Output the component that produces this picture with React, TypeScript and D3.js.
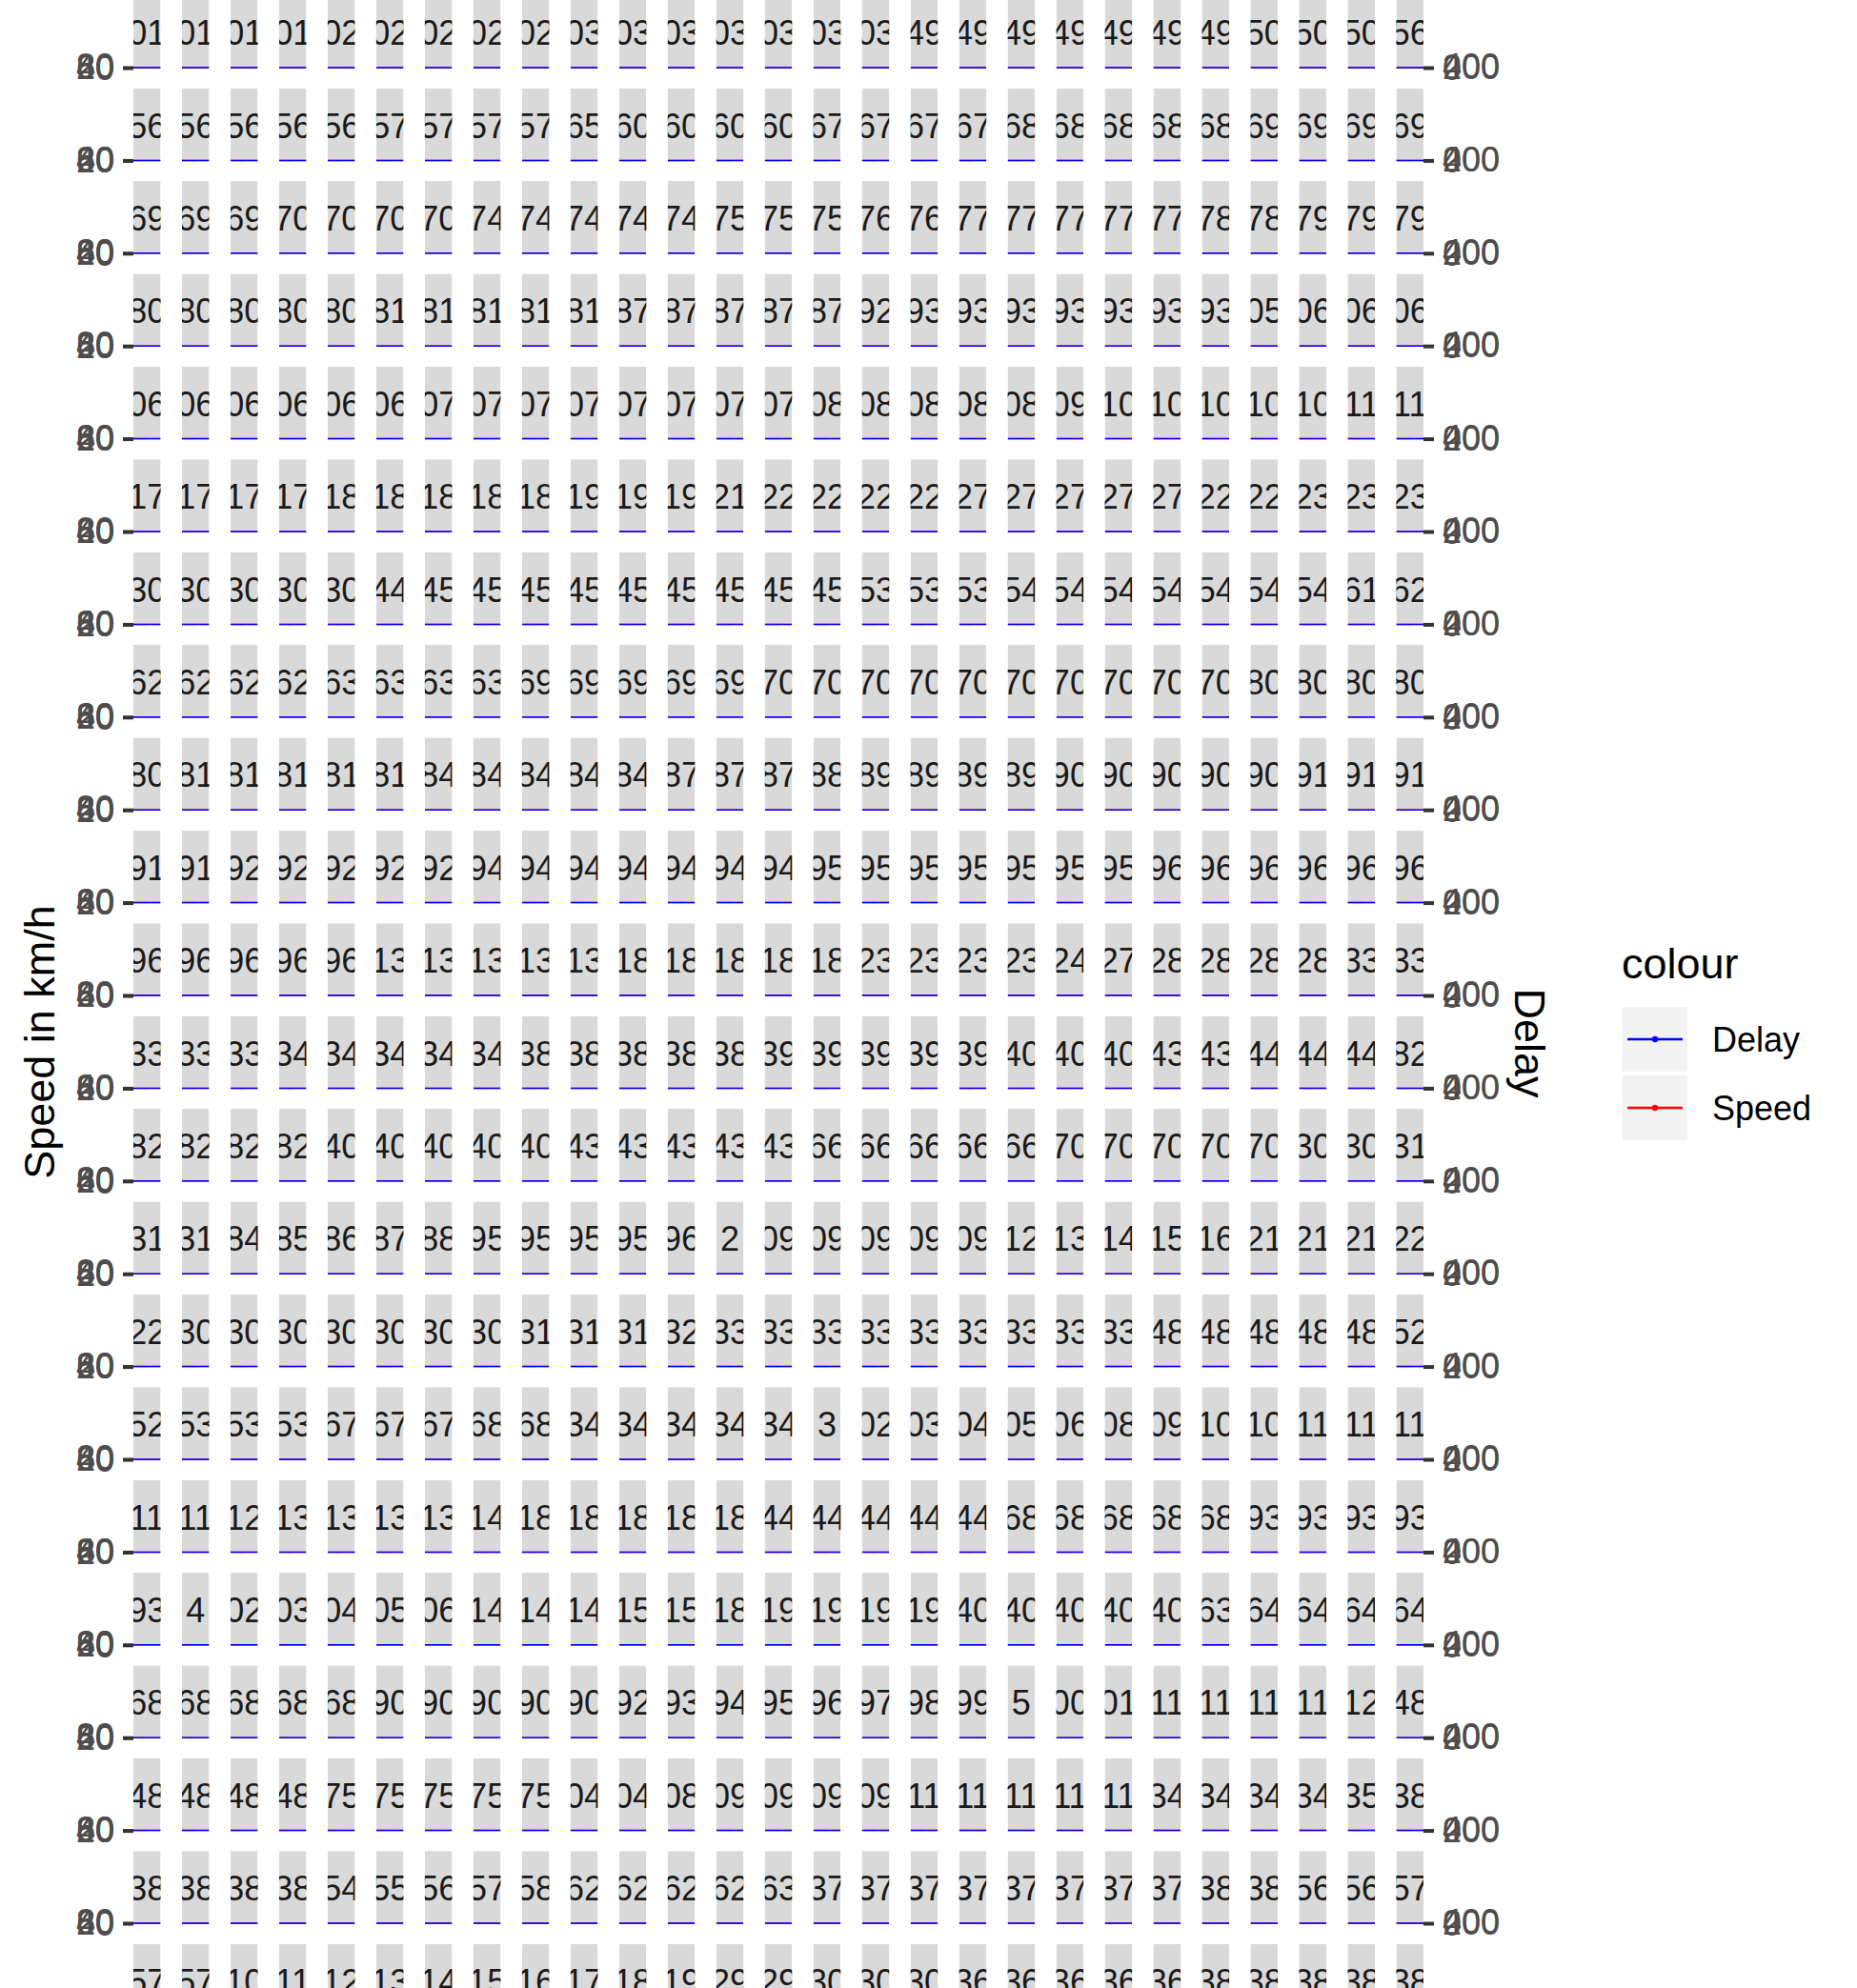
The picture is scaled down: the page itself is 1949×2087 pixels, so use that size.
import React, { useEffect, useRef } from "react";
import * as d3 from "d3";

// Facet strip labels, row by row (only the part that is visible in the narrow strips)
const stripRows = [
  "01 01 01 01 02 02 02 02 02 03 03 03 03 03 03 03 49 49 49 49 49 49 49 50 50 50 56",
  "56 56 56 56 56 57 57 57 57 65 60 60 60 60 67 67 67 67 68 68 68 68 68 69 69 69 69",
  "69 69 69 70 70 70 70 74 74 74 74 74 75 75 75 76 76 77 77 77 77 77 78 78 79 79 79",
  "80 80 80 80 80 81 81 81 81 81 87 87 87 87 87 92 93 93 93 93 93 93 93 05 06 06 06",
  "06 06 06 06 06 06 07 07 07 07 07 07 07 07 08 08 08 08 08 09 10 10 10 10 10 11 11",
  "17 17 17 17 18 18 18 18 18 19 19 19 21 22 22 22 22 27 27 27 27 27 22 22 23 23 23",
  "30 30 30 30 30 44 45 45 45 45 45 45 45 45 45 53 53 53 54 54 54 54 54 54 54 61 62",
  "62 62 62 62 63 63 63 63 69 69 69 69 69 70 70 70 70 70 70 70 70 70 70 80 80 80 80",
  "80 81 81 81 81 81 84 84 84 84 84 87 87 87 88 89 89 89 89 90 90 90 90 90 91 91 91",
  "91 91 92 92 92 92 92 94 94 94 94 94 94 94 95 95 95 95 95 95 95 96 96 96 96 96 96",
  "96 96 96 96 96 13 13 13 13 13 18 18 18 18 18 23 23 23 23 24 27 28 28 28 28 33 33",
  "33 33 33 34 34 34 34 34 38 38 38 38 38 39 39 39 39 39 40 40 40 43 43 44 44 44 82",
  "82 82 82 82 40 40 40 40 40 43 43 43 43 43 66 66 66 66 66 70 70 70 70 70 30 30 31",
  "31 31 84 85 86 87 88 95 95 95 95 96 2 09 09 09 09 09 12 13 14 15 16 21 21 21 22",
  "22 30 30 30 30 30 30 30 31 31 31 32 33 33 33 33 33 33 33 33 33 48 48 48 48 48 52",
  "52 53 53 53 67 67 67 68 68 34 34 34 34 34 3 02 03 04 05 06 08 09 10 10 11 11 11",
  "11 11 12 13 13 13 13 14 18 18 18 18 18 44 44 44 44 44 68 68 68 68 68 93 93 93 93",
  "93 4 02 03 04 05 06 14 14 14 15 15 18 19 19 19 19 40 40 40 40 40 63 64 64 64 64",
  "68 68 68 68 68 90 90 90 90 90 92 93 94 95 96 97 98 99 5 00 01 11 11 11 11 12 48",
  "48 48 48 48 75 75 75 75 75 04 04 08 09 09 09 09 11 11 11 11 11 34 34 34 34 35 38",
  "38 38 38 38 54 55 56 57 58 62 62 62 62 63 37 37 37 37 37 37 37 37 38 38 56 56 57",
  "57 57 10 11 12 13 14 15 16 17 18 19 29 29 30 30 30 36 36 36 36 36 38 38 38 38 38",
].map((r) => r.split(" "));

// one short trip per facet (panels are squashed flat, values are not readable)
const tripTime = [0, 1, 2, 3, 4, 5];
const speedKmh = [46, 52, 38, 61, 55, 49];
const delaySec = [120, 90, 150, 60, 80, 110];

const speedTicks = [0, 20, 40, 60, 80];
const delayTicks = [0, 200, 400];

const legendItems = [
  { label: "Delay", color: "#0000FF" },
  { label: "Speed", color: "#FF0000" },
];

const W = 1949;
const H = 2087;
const FONT = "'Liberation Sans', Arial, Helvetica, sans-serif";

export default function App() {
  const svgRef = useRef<SVGSVGElement>(null);

  useEffect(() => {
    const svg = d3.select(svgRef.current);
    svg.selectAll("*").remove();

    const nCols = stripRows[0].length;
    const stripH = 75;
    const panelH = 1.5;

    // Layout scales
    const col = d3
      .scaleBand<number>()
      .domain(d3.range(nCols))
      .range([140, 1494])
      .paddingInner(0.44);
    const bw = col.bandwidth();
    const rowBase = d3.scaleLinear().domain([0, 20]).range([71, 2019]);

    // Panel scales
    const x = d3
      .scaleLinear()
      .domain(d3.extent(tripTime) as [number, number])
      .range([0, bw]);
    const ySpeed = d3.scaleLinear().domain([0, 80]).range([panelH, 0]);
    const yDelay = d3.scaleLinear().domain([0, 400]).range([panelH, 0]);

    svg
      .append("defs")
      .append("clipPath")
      .attr("id", "panel-clip")
      .append("rect")
      .attr("width", bw)
      .attr("height", panelH);

    const speedLine = d3
      .line<number>()
      .x((_, i) => x(tripTime[i]))
      .y((d) => ySpeed(d));
    const delayLine = d3
      .line<number>()
      .x((_, i) => x(tripTime[i]))
      .y((d) => yDelay(d));

    const grid = svg.append("g");

    stripRows.forEach((labels, r) => {
      labels.forEach((label, c) => {
        const g = grid
          .append("g")
          .attr("transform", `translate(${col(c)},${rowBase(r) - panelH / 2})`);

        // strip (nested svg clips the label)
        const strip = g
          .append("svg")
          .attr("x", 0)
          .attr("y", -stripH)
          .attr("width", bw)
          .attr("height", stripH)
          .attr("overflow", "hidden");
        strip
          .append("rect")
          .attr("width", bw)
          .attr("height", stripH)
          .attr("fill", "#D9D9D9");
        strip
          .append("text")
          .attr("x", bw / 2)
          .attr("y", stripH / 2)
          .attr("dy", "0.4em")
          .attr("text-anchor", "middle")
          .attr("font-family", FONT)
          .attr("font-size", 36)
          .attr("fill", "#1A1A1A")
          .text(label);

        // panel contents
        const p = g.append("g").attr("clip-path", "url(#panel-clip)");
        p.append("path")
          .datum(speedKmh)
          .attr("fill", "none")
          .attr("stroke", "#FF0000")
          .attr("stroke-width", 3)
          .attr("d", speedLine);
        p.append("path")
          .datum(delaySec)
          .attr("fill", "none")
          .attr("stroke", "#0000FF")
          .attr("stroke-width", 4)
          .attr("d", delayLine);

        if (c === 0) {
          const ax = g
            .append("g")
            .call(d3.axisLeft(ySpeed).tickValues(speedTicks).tickSize(11).tickPadding(9));
          styleAxis(ax);
        }
        if (c === nCols - 1) {
          const ax = g
            .append("g")
            .attr("transform", `translate(${bw},0)`)
            .call(d3.axisRight(yDelay).tickValues(delayTicks).tickSize(11).tickPadding(9));
          styleAxis(ax);
        }
      });
    });

    function styleAxis(ax: d3.Selection<SVGGElement, unknown, null, undefined>) {
      ax.attr("font-size", 36).attr("font-family", FONT);
      ax.select(".domain").remove();
      ax.selectAll(".tick line").attr("stroke", "#333333").attr("stroke-width", 2.5);
      ax.selectAll(".tick text").attr("fill", "#4D4D4D");
    }

    // Axis titles
    svg
      .append("text")
      .attr("transform", "translate(57,1094) rotate(-90)")
      .attr("text-anchor", "middle")
      .attr("font-family", FONT)
      .attr("font-size", 45)
      .attr("fill", "#000")
      .text("Speed in km/h");
    svg
      .append("text")
      .attr("transform", "translate(1590,1095) rotate(90)")
      .attr("text-anchor", "middle")
      .attr("font-family", FONT)
      .attr("font-size", 45)
      .attr("fill", "#000")
      .text("Delay");

    // Legend
    const legend = svg.append("g").attr("transform", "translate(1702,1027)");
    legend
      .append("text")
      .attr("font-family", FONT)
      .attr("font-size", 45)
      .attr("fill", "#000")
      .text("colour");
    const keySize = 68;
    const keys = legend
      .selectAll("g.key")
      .data(legendItems)
      .enter()
      .append("g")
      .attr("class", "key")
      .attr("transform", (_, i) => `translate(1,${30 + i * (keySize + 4)})`);
    keys
      .append("rect")
      .attr("width", keySize)
      .attr("height", keySize)
      .attr("fill", "#F2F2F2");
    keys
      .append("line")
      .attr("x1", 5)
      .attr("x2", keySize - 5)
      .attr("y1", keySize / 2)
      .attr("y2", keySize / 2)
      .attr("stroke", (d) => d.color)
      .attr("stroke-width", 2.5);
    keys
      .append("circle")
      .attr("cx", keySize / 2)
      .attr("cy", keySize / 2)
      .attr("r", 3.2)
      .attr("fill", (d) => d.color);
    keys
      .append("text")
      .attr("x", keySize + 26)
      .attr("y", keySize / 2)
      .attr("dy", "0.36em")
      .attr("font-family", FONT)
      .attr("font-size", 36)
      .attr("fill", "#000")
      .text((d) => d.label);
  }, []);

  return (
    <svg
      ref={svgRef}
      width={W}
      height={H}
      style={{ position: "absolute", left: 0, top: 0, background: "#fff" }}
    />
  );
}
